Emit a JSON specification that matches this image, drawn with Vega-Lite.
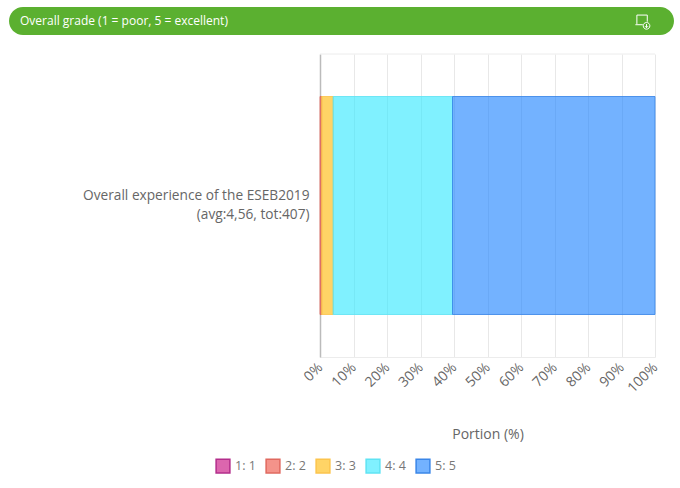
{
  "$schema": "https://vega.github.io/schema/vega-lite/v6.json",
  "padding": {"left": 9, "top": 7, "right": 5, "bottom": 0},
  "background": "white",
  "config": {"font": "Open Sans", "view": {"stroke": null}},
  "spacing": 18,
  "vconcat": [
    {
      "width": 665,
      "height": 28,
      "data": {"values": [{"label": "Overall grade (1 = poor, 5 = excellent)", "start": 0, "end": 100, "icon": 95.2}]},
      "encoding": {
        "x": {"field": "start", "type": "quantitative", "scale": {"domain": [0, 100], "nice": false}, "axis": null}
      },
      "layer": [
        {
          "mark": {"type": "rect", "color": "#5bb030", "cornerRadius": 14},
          "encoding": {"x2": {"field": "end"}}
        },
        {
          "mark": {"type": "text", "align": "left", "dx": 11, "color": "white", "fontSize": 12},
          "encoding": {"text": {"field": "label"}}
        },
        {
          "mark": {
            "type": "point",
            "shape": "M-0.7 0.4V-0.8H0.7V0.1M-0.9 0.5H0.1M0.6 0.2A0.45 0.45 0 1 0 0.6 1.1A0.45 0.45 0 1 0 0.6 0.2M0.6 0.4V0.9M0.4 0.7L0.6 0.9L0.8 0.7",
            "size": 220,
            "filled": false,
            "stroke": "white",
            "strokeWidth": 1,
            "opacity": 1
          },
          "encoding": {"x": {"field": "icon", "type": "quantitative"}}
        }
      ]
    },
    {
      "width": 665,
      "height": 303,
      "layer": [
        {
          "data": {
            "values": [
              {"question": "Overall experience of the ESEB2019|(avg:4,56, tot:407)", "grade": "2: 2", "portion": 0.49},
              {"question": "Overall experience of the ESEB2019|(avg:4,56, tot:407)", "grade": "3: 3", "portion": 3.44},
              {"question": "Overall experience of the ESEB2019|(avg:4,56, tot:407)", "grade": "4: 4", "portion": 35.63},
              {"question": "Overall experience of the ESEB2019|(avg:4,56, tot:407)", "grade": "5: 5", "portion": 60.44}
            ]
          },
          "mark": {"type": "bar", "fillOpacity": 0.6, "strokeWidth": 1, "strokeOpacity": 0.85},
          "encoding": {
            "y": {
              "field": "question",
              "type": "nominal",
              "title": null,
              "scale": {"paddingInner": 0, "paddingOuter": 0.195},
              "axis": {
                "labelExpr": "split(datum.label, '|')",
                "labelFontSize": 13.7,
                "labelColor": "#666",
                "labelLimit": 300,
                "labelLineHeight": 19,
                "labelPadding": 11,
                "labelOffset": -10,
                "ticks": false,
                "domainColor": "#bbb",
                "domainWidth": 1.5,
                "offset": -311
              }
            },
            "x": {
              "field": "portion",
              "type": "quantitative",
              "stack": "zero",
              "title": "Portion (%)",
              "scale": {"domain": [0, 100], "nice": false, "range": [311, 646]},
              "axis": {
                "values": [0, 10, 20, 30, 40, 50, 60, 70, 80, 90, 100],
                "labelExpr": "datum.value + '%'",
                "labelAngle": -45,
                "labelAlign": "right",
                "labelBaseline": "middle",
                "labelFontSize": 14,
                "labelColor": "#666",
                "labelPadding": 8,
                "labelFlush": false,
                "labelOverlap": false,
                "ticks": false,
                "domain": true,
                "domainColor": "#ececec",
                "grid": true,
                "gridColor": "#e8e8e8",
                "gridWidth": 1,
                "titleFontSize": 14,
                "titleFontWeight": "normal",
                "titleColor": "#666",
                "titlePadding": 32
              }
            },
            "order": {"field": "grade"},
            "fill": {
              "field": "grade",
              "type": "nominal",
              "scale": {"domain": ["1: 1", "2: 2", "3: 3", "4: 4", "5: 5"], "range": ["#c50078", "#ed4b3c", "#ffb700", "#2be8ff", "#167fff"]},
              "legend": {
                "title": null,
                "orient": "none",
                "direction": "horizontal",
                "legendX": 206,
                "legendY": 451,
                "symbolType": "square",
                "symbolSize": 190,
                "labelFontSize": 12.5,
                "labelColor": "#777",
                "columnPadding": 7,
                "encode": {"symbols": {"update": {"fillOpacity": {"value": 0.6}, "strokeWidth": {"value": 1.5}}}}
              }
            },
            "stroke": {
              "field": "grade",
              "type": "nominal",
              "scale": {"domain": ["1: 1", "2: 2", "3: 3", "4: 4", "5: 5"], "range": ["#b32d8b", "#e0695f", "#fcc44c", "#5fe3f3", "#3a86e8"]},
              "legend": {
                "title": null,
                "orient": "none",
                "direction": "horizontal",
                "legendX": 206,
                "legendY": 451,
                "symbolType": "square",
                "symbolSize": 190,
                "labelFontSize": 12.5,
                "labelColor": "#777",
                "columnPadding": 7,
                "encode": {"symbols": {"update": {"fillOpacity": {"value": 0.6}, "strokeWidth": {"value": 1.5}}}}
              }
            }
          }
        },
        {
          "data": {"values": [{"start": 0, "end": 100}]},
          "mark": {"type": "rule", "color": "#ececec"},
          "encoding": {
            "x": {"field": "start", "type": "quantitative", "title": "Portion (%)"},
            "x2": {"field": "end"},
            "y": {"value": 0}
          }
        }
      ]
    }
  ]
}
